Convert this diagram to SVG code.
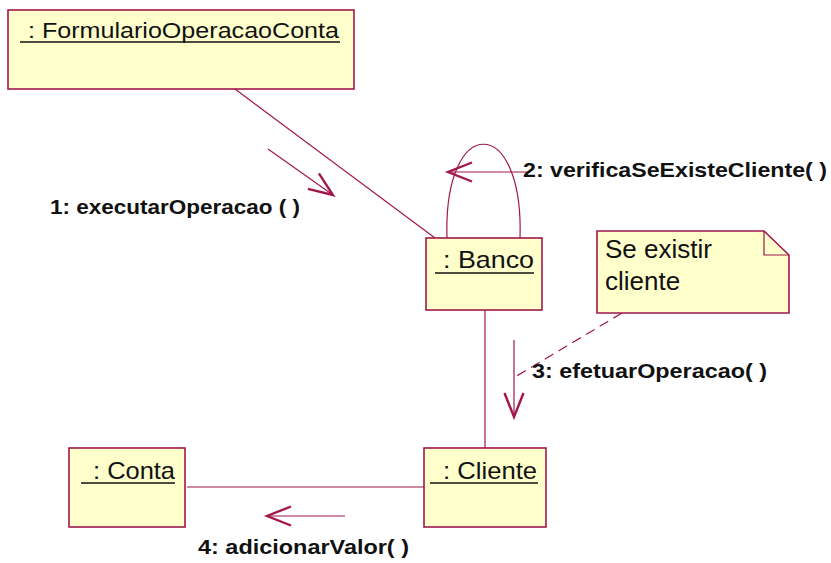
<svg xmlns="http://www.w3.org/2000/svg" width="831" height="563" viewBox="0 0 831 563">
<defs>
<marker id="open" viewBox="-27 -12 29 24" markerWidth="29" markerHeight="24" refX="0" refY="0" orient="auto" markerUnits="userSpaceOnUse" overflow="visible">
<path d="M-24,-9.5 L0,0 L-24,9.5" fill="none" stroke="#A0174C" stroke-width="2.4"/>
</marker>
</defs>
<style>
.box{fill:#FFFFCC;stroke:#A0174C;stroke-width:1.6}
.ln{fill:none;stroke:#A0174C;stroke-width:1.2}
.ul{stroke:#111;stroke-width:1.3}
.nt{font-family:"Liberation Sans",Arial,sans-serif;font-size:24px;fill:#111}
.nt2{font-family:"Liberation Sans",Arial,sans-serif;font-size:21.5px;fill:#111}
.lb{font-family:"Liberation Sans",Arial,sans-serif;font-size:21px;font-weight:bold;fill:#111}
.note{font-family:"Liberation Sans",Arial,sans-serif;font-size:26px;fill:#111}
</style>
<rect width="831" height="563" fill="#FFFFFF"/>
<g id="connectors">
<line class="ln" x1="235" y1="89" x2="435" y2="238"/>
<path class="ln" d="M447,238 C443,113 524,113 520,238"/>
<line class="ln" x1="485" y1="310" x2="485" y2="448"/>
<line class="ln" x1="187" y1="487" x2="424" y2="487"/>
<line class="ln" x1="622" y1="313" x2="515" y2="377" stroke-dasharray="10 6"/>
<line class="ln" x1="268" y1="149" x2="333" y2="195" marker-end="url(#open)"/>
<line class="ln" x1="530" y1="172" x2="448" y2="172" marker-end="url(#open)"/>
<line class="ln" x1="514" y1="340" x2="514" y2="417" marker-end="url(#open)"/>
<line class="ln" x1="345" y1="516" x2="267" y2="516" marker-end="url(#open)"/>
<text class="lb" x="50" y="214" textLength="250" lengthAdjust="spacingAndGlyphs">1: executarOperacao ( )</text>
<text class="lb" x="523" y="177" textLength="304" lengthAdjust="spacingAndGlyphs">2: verificaSeExisteCliente( )</text>
<text class="lb" x="532" y="378" textLength="235" lengthAdjust="spacingAndGlyphs">3: efetuarOperacao( )</text>
<text class="lb" x="198" y="554" textLength="211" lengthAdjust="spacingAndGlyphs">4: adicionarValor( )</text>
</g>
<g id="formulario">
<rect class="box" x="8" y="10" width="346" height="79"/>
<text class="nt2" x="28" y="38" textLength="311" lengthAdjust="spacingAndGlyphs">: FormularioOperacaoConta</text>
<line class="ul" x1="20" y1="42" x2="340" y2="42"/>
</g>
<g id="banco">
<rect class="box" x="426" y="238" width="116" height="72"/>
<text class="nt" x="443" y="268" textLength="91" lengthAdjust="spacingAndGlyphs">: Banco</text>
<line class="ul" x1="435" y1="273" x2="534" y2="273"/>
</g>
<g id="note">
<path class="box" d="M597,231 L764,231 L789,255 L789,313 L597,313 Z"/>
<path class="ln" d="M764,231 L764,255 L789,255" stroke-width="1.6"/>
<text class="note" x="605" y="258">Se existir</text>
<text class="note" x="605" y="290">cliente</text>
</g>
<g id="cliente">
<rect class="box" x="424" y="448" width="122" height="79"/>
<text class="nt" x="443" y="479" textLength="94" lengthAdjust="spacingAndGlyphs">: Cliente</text>
<line class="ul" x1="430" y1="483" x2="538" y2="483"/>
</g>
<g id="conta">
<rect class="box" x="69" y="448" width="116" height="79"/>
<text class="nt" x="93" y="479" textLength="82" lengthAdjust="spacingAndGlyphs">: Conta</text>
<line class="ul" x1="81" y1="483" x2="175" y2="483"/>
</g>
</svg>
